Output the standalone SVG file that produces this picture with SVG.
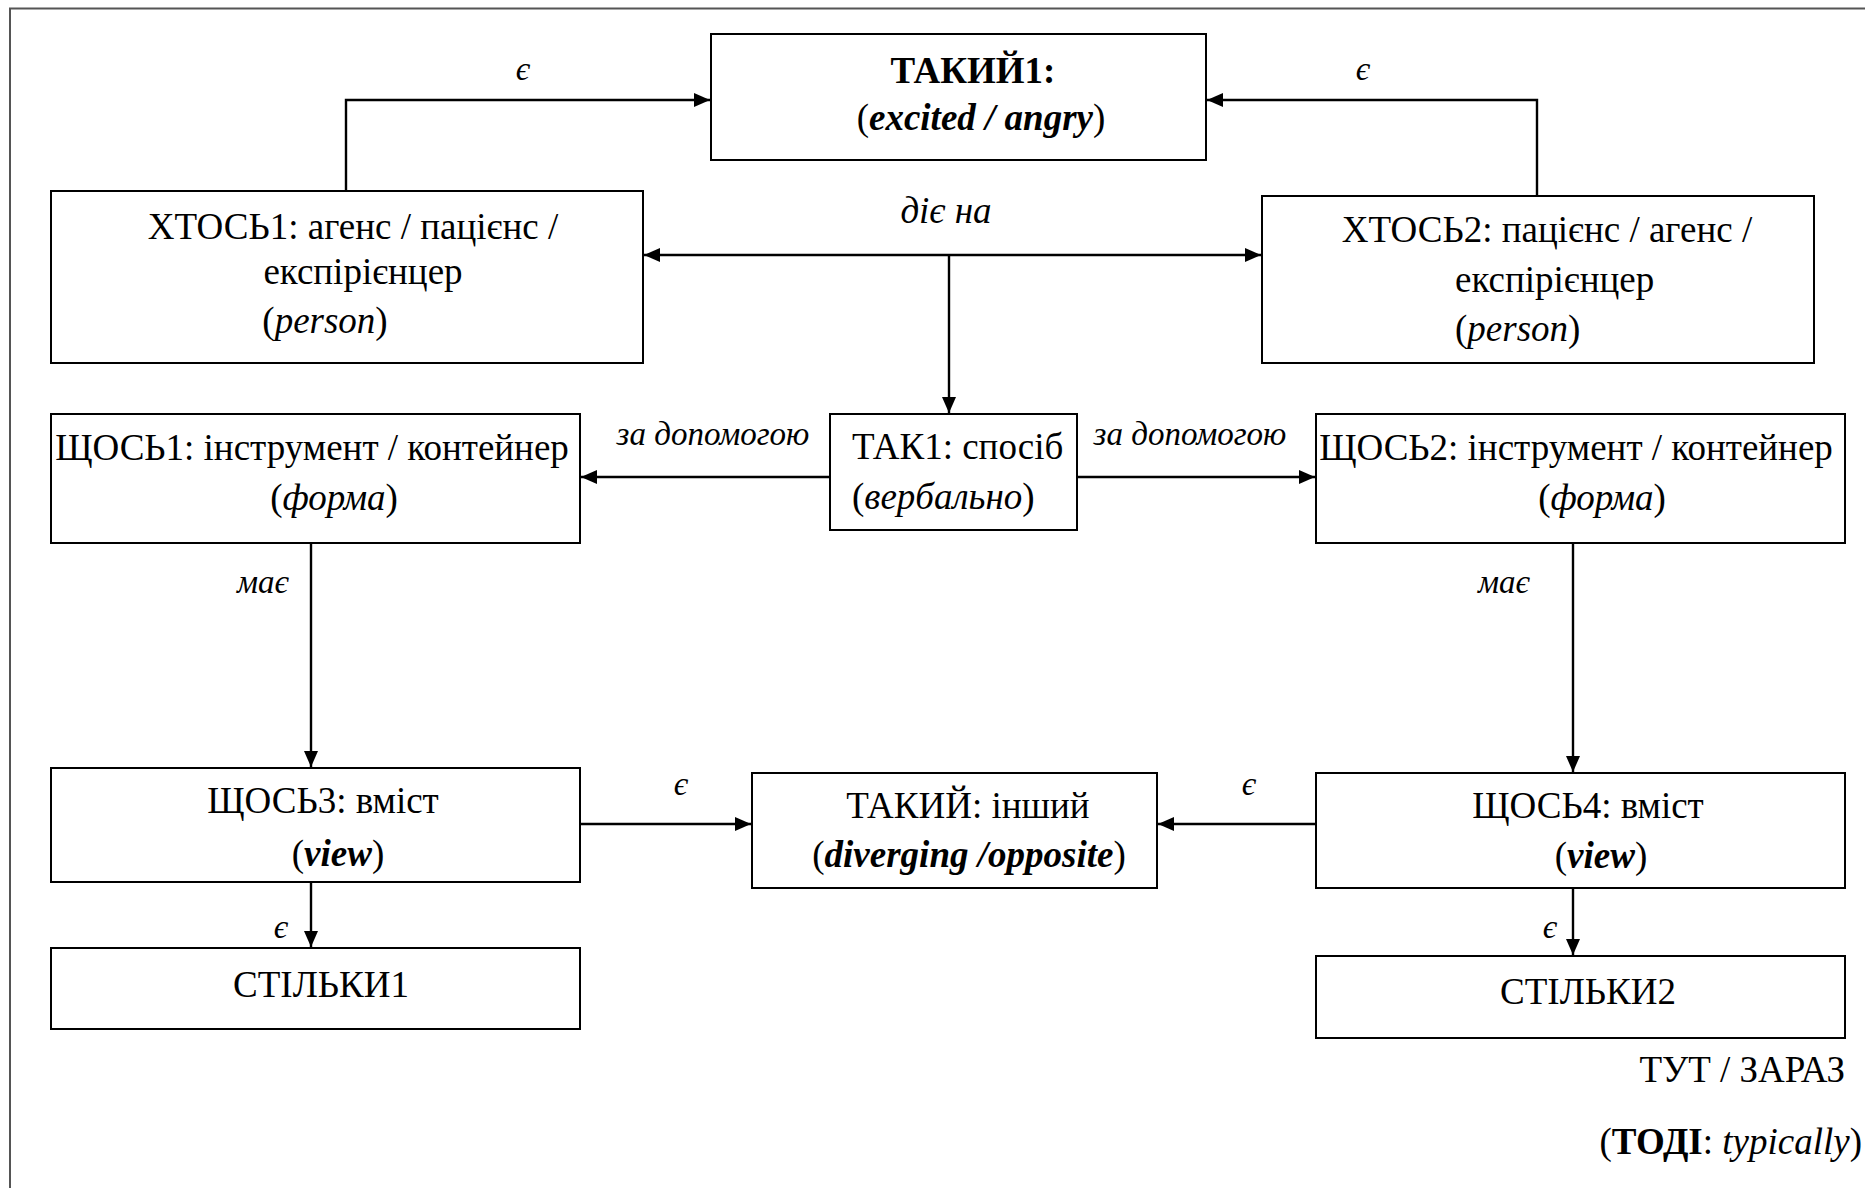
<svg xmlns="http://www.w3.org/2000/svg" width="1865" height="1188" viewBox="0 0 1865 1188">
  <style>
    .box { fill: #ffffff; stroke: #000000; stroke-width: 2; }
    .t { font-family: "Liberation Serif", "Times New Roman", serif; font-size: 37px; fill: #000000; }
    .c { text-anchor: middle; }
    .lbl { font-family: "Liberation Serif", "Times New Roman", serif; font-style: italic; font-size: 33px; fill: #000000; text-anchor: middle; }
    .edge { fill: none; stroke: #000000; stroke-width: 2.4; }
    .frame { fill: none; stroke: #555555; stroke-width: 2; }
  </style>
  <defs>
    <marker id="arrow" markerUnits="userSpaceOnUse" markerWidth="18" markerHeight="16" refX="16" refY="7" orient="auto-start-reverse">
      <path d="M0,0 L16,7 L0,14 Z" fill="#000000"/>
    </marker>
  </defs>

  <rect width="1865" height="1188" fill="#ffffff"/>
  <path class="frame" d="M10,1188 V8.5 H1865"/>

  <!-- connectors -->
  <g id="connectors">
    <path class="edge" d="M346,191 V100 H710" marker-end="url(#arrow)"/>
    <path class="edge" d="M1537,196 V100 H1207" marker-end="url(#arrow)"/>
    <path class="edge" d="M644,255 H1261" marker-start="url(#arrow)" marker-end="url(#arrow)"/>
    <path class="edge" d="M949,255 V413" marker-end="url(#arrow)"/>
    <path class="edge" d="M830,477 H581" marker-end="url(#arrow)"/>
    <path class="edge" d="M1077,477 H1315" marker-end="url(#arrow)"/>
    <path class="edge" d="M311,543 V767" marker-end="url(#arrow)"/>
    <path class="edge" d="M1573,543 V772" marker-end="url(#arrow)"/>
    <path class="edge" d="M580,824 H751" marker-end="url(#arrow)"/>
    <path class="edge" d="M1316,824 H1158" marker-end="url(#arrow)"/>
    <path class="edge" d="M311,882 V947" marker-end="url(#arrow)"/>
    <path class="edge" d="M1573,888 V955" marker-end="url(#arrow)"/>

    <text class="lbl" x="523" y="80">є</text>
    <text class="lbl" x="1363" y="80">є</text>
    <text class="lbl" x="946" y="223" style="font-size:37px">діє на</text>
    <text class="lbl" x="713" y="445">за допомогою</text>
    <text class="lbl" x="1190" y="445">за допомогою</text>
    <text class="lbl" x="263" y="593">має</text>
    <text class="lbl" x="1504" y="593">має</text>
    <text class="lbl" x="681" y="795">є</text>
    <text class="lbl" x="1249" y="795">є</text>
    <text class="lbl" x="281" y="938">є</text>
    <text class="lbl" x="1550" y="938">є</text>
  </g>

  <!-- nodes -->
  <g id="takyi1">
    <rect class="box" x="711" y="34" width="495" height="126"/>
    <text class="t c" x="973" y="83" font-weight="bold">ТАКИЙ1:</text>
    <text class="t c" x="981" y="130">(<tspan font-weight="bold" font-style="italic">excited / angry</tspan>)</text>
  </g>

  <g id="khtos1">
    <rect class="box" x="51" y="191" width="592" height="172"/>
    <text class="t c" x="353" y="239">ХТОСЬ1: агенс / пацієнс /</text>
    <text class="t c" x="363" y="284">експірієнцер</text>
    <text class="t c" x="325" y="333">(<tspan font-style="italic">person</tspan>)</text>
  </g>

  <g id="khtos2">
    <rect class="box" x="1262" y="196" width="552" height="167"/>
    <text class="t c" x="1547" y="242">ХТОСЬ2: пацієнс / агенс /</text>
    <text class="t" x="1455" y="292">експірієнцер</text>
    <text class="t" x="1455" y="341">(<tspan font-style="italic">person</tspan>)</text>
  </g>

  <g id="shchos1">
    <rect class="box" x="51" y="414" width="529" height="129"/>
    <text class="t c" x="312" y="460">ЩОСЬ1: інструмент / контейнер</text>
    <text class="t c" x="334" y="510">(<tspan font-style="italic">форма</tspan>)</text>
  </g>

  <g id="tak1">
    <rect class="box" x="830" y="414" width="247" height="116"/>
    <text class="t" x="852" y="459">ТАК1: спосіб</text>
    <text class="t" x="852" y="509">(<tspan font-style="italic">вербально</tspan>)</text>
  </g>

  <g id="shchos2">
    <rect class="box" x="1316" y="414" width="529" height="129"/>
    <text class="t c" x="1576" y="460">ЩОСЬ2: інструмент / контейнер</text>
    <text class="t c" x="1602" y="510">(<tspan font-style="italic">форма</tspan>)</text>
  </g>

  <g id="shchos3">
    <rect class="box" x="51" y="768" width="529" height="114"/>
    <text class="t c" x="323" y="813">ЩОСЬ3: вміст</text>
    <text class="t c" x="338" y="866">(<tspan font-weight="bold" font-style="italic">view</tspan>)</text>
  </g>

  <g id="takyi">
    <rect class="box" x="752" y="773" width="405" height="115"/>
    <text class="t c" x="968" y="818">ТАКИЙ: інший</text>
    <text class="t c" x="969" y="867">(<tspan font-weight="bold" font-style="italic">diverging /opposite</tspan>)</text>
  </g>

  <g id="shchos4">
    <rect class="box" x="1316" y="773" width="529" height="115"/>
    <text class="t c" x="1588" y="818">ЩОСЬ4: вміст</text>
    <text class="t c" x="1601" y="868">(<tspan font-weight="bold" font-style="italic">view</tspan>)</text>
  </g>

  <g id="stilky1">
    <rect class="box" x="51" y="948" width="529" height="81"/>
    <text class="t c" x="321" y="997">СТІЛЬКИ1</text>
  </g>

  <g id="stilky2">
    <rect class="box" x="1316" y="956" width="529" height="82"/>
    <text class="t c" x="1588" y="1004">СТІЛЬКИ2</text>
  </g>

  <g id="context">
    <text class="t" x="1845" y="1082" text-anchor="end">ТУТ / ЗАРАЗ</text>
    <text class="t" x="1862" y="1154" text-anchor="end">(<tspan font-weight="bold">ТОДІ</tspan>: <tspan font-style="italic">typically</tspan>)</text>
  </g>
</svg>
